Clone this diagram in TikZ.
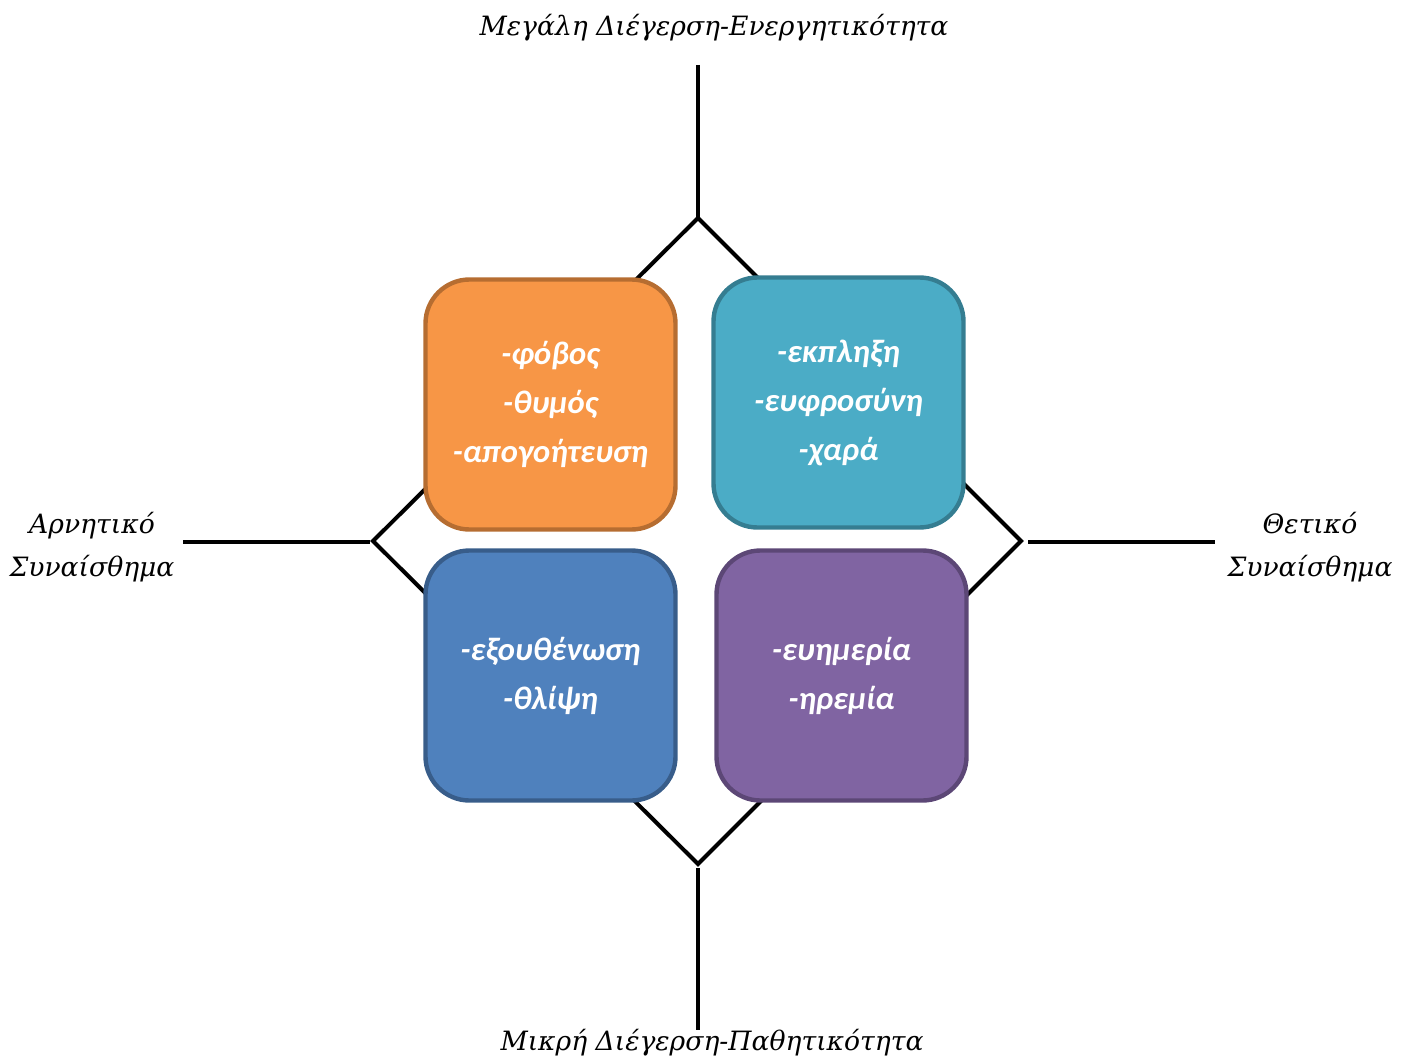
\documentclass[tikz,border=0pt]{standalone}
\usepackage{fontspec}
\setmainfont{DejaVu Serif}
\setsansfont{Carlito}
\usetikzlibrary{positioning}
\definecolor{orangefill}{HTML}{F79646}
\definecolor{orangeline}{HTML}{B66D31}
\definecolor{tealfill}{HTML}{4BACC6}
\definecolor{tealline}{HTML}{357D91}
\definecolor{bluefill}{HTML}{4F81BD}
\definecolor{blueline}{HTML}{385D8A}
\definecolor{purplefill}{HTML}{8064A2}
\definecolor{purpleline}{HTML}{5C4776}
\tikzset{
  quadbox/.style={draw, line width=2.2pt, rounded corners=22pt, minimum width=125pt, minimum height=125pt, align=center, text=white, font=\fontsize{16.3}{24.5}\selectfont\sffamily\bfseries\itshape},
  axislabel/.style={align=center, font=\fontsize{13.3}{21.5}\selectfont\itshape},
  axisline/.style={line width=2pt}
}
\begin{document}
\begin{tikzpicture}[x=0.5pt,y=-0.5pt]
\useasboundingbox (0,0) rectangle (1408,1059);
% diamond behind the boxes
\coordinate (dtop) at (698,218);
\coordinate (dleft) at (373,541);
\coordinate (dbottom) at (698,864);
\coordinate (dright) at (1021,541);
\draw[axisline,line join=miter] (dtop)--(dright)--(dbottom)--(dleft)--cycle;
% axes
\coordinate (topend) at (698,65);
\coordinate (botstart) at (698,868);
\coordinate (botend) at (698,1030);
\coordinate (leftstart) at (183,542);
\coordinate (leftend) at (370,542);
\coordinate (rightstart) at (1028,542);
\coordinate (rightend) at (1215,542);
\draw[axisline] (topend)--(dtop);
\draw[axisline] (botstart)--(botend);
\draw[axisline] (leftstart)--(leftend);
\draw[axisline] (rightstart)--(rightend);
% labels
\node[axislabel] (high) at (714,28) {Μεγάλη Διέγερση-Ενεργητικότητα};
\node[axislabel] (low) at (712,1043) {Μικρή Διέγερση-Παθητικότητα};
\node[axislabel] (neg) at (92,547) {Αρνητικό\\Συναίσθημα};
\node[axislabel] (pos) at (1310,547) {Θετικό\\Συναίσθημα};
% quadrants
\node[quadbox,fill=orangefill,draw=orangeline] (fear) at (550.5,404.5) {-φόβος\\-θυμός\\-απογοήτευση};
\node[quadbox,fill=tealfill,draw=tealline] (joy) at (838.5,402.5) {-εκπληξη\\-ευφροσύνη\\-χαρά};
\node[quadbox,fill=bluefill,draw=blueline] (sad) at (550.5,675.5) {-εξουθένωση\\-θλίψη};
\node[quadbox,fill=purplefill,draw=purpleline] (calm) at (841.5,675.5) {-ευημερία\\-ηρεμία};
\end{tikzpicture}
\end{document}
